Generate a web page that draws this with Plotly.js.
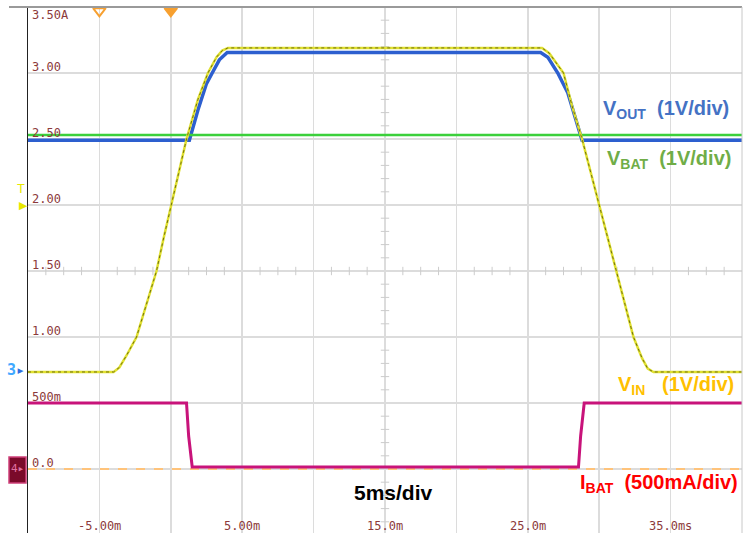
<!DOCTYPE html>
<html>
<head>
<meta charset="utf-8">
<script src="https://cdn.plot.ly/plotly-3.0.1.min.js"></script>
<style>html,body{margin:0;padding:0;background:#fff;}#chart{width:755px;height:533px;}</style>
</head>
<body>
<div id="chart"></div>
<script>
// ---- data (time in ms, level in screen units: 0.5 per division) ----
const vbatT = [-10, 40];
const vbatV = [2.53, 2.53];

const voutT = [-10, 1.3, 1.9, 2.5, 2.9, 3.4, 3.95, 25.9, 26.4, 27.1, 27.8, 28.3, 28.8, 40];
const voutV = [2.49, 2.49, 2.72, 2.92, 3.0, 3.1, 3.155, 3.155, 3.12, 3.0, 2.85, 2.68, 2.49, 2.49];

const vinT = [-10, -4.0, -3.6, -3.1, -2.4, -1.7, -1.0, -0.5, 0.05, 0.6, 1.1, 1.9, 2.6, 3.2, 3.6, 4.0,
              26.0, 26.5, 27.5, 28.1, 28.8, 29.4, 30.0, 30.6, 31.2, 31.8, 32.4, 33.0, 33.4, 33.8, 40];
const vinV = [0.735, 0.735, 0.77, 0.86, 1.0, 1.25, 1.5, 1.75, 2.0, 2.27, 2.5, 2.8, 3.0, 3.12, 3.17, 3.19,
              3.19, 3.15, 3.0, 2.75, 2.5, 2.25, 2.0, 1.75, 1.5, 1.25, 1.0, 0.84, 0.76, 0.735, 0.735];

const ibatT = [-10, 1.1, 1.25, 1.5, 28.55, 28.7, 28.95, 40];
const ibatV = [0.5, 0.5, 0.25, 0.015, 0.015, 0.25, 0.5, 0.5];

const groundT = [-10, 40];
const groundV = [0, 0];

const triggerX = [-5, 0];

const yTickVals = [3.5, 3.0, 2.5, 2.0, 1.5, 1.0, 0.5, 0.0];
const yTickText = ['3.50A', '3.00', '2.50', '2.00', '1.50', '1.00', '500m', '0.0'];
const xTickVals = [-5, 5, 15, 25, 35];
const xTickText = ['-5.00m', '5.00m', '15.0m', '25.0m', '35.0ms'];

// ---- layout helpers ----
const W = 755, H = 533, L = 28, R = 13, T = 7, B = 0;
const PW = W - L - R, PH = H - T - B;
const px = x => (x - L) / PW;
const py = y => 1 - (y - T) / PH;
const yTop = 3.5, yBot = 3.5 - PH / 132;

// minor ticks on center lines
const hTickX = [], hTickY = [];
for (let x = -10; x <= 40.001; x += 1.25) { if (Math.abs((x % 5)) > 0.01) { hTickX.push(x); hTickY.push(1.5); } }
const vTickX = [], vTickY = [];
for (let y = -0.5; y <= 3.5001; y += 0.1) { const r = Math.abs(((y * 10) % 5)); if (r > 0.01 && r < 4.99) { vTickX.push(15); vTickY.push(y); } }

const labelColor = '#8c3a3a';
const mono = 'DejaVu Sans Mono';
const sans = 'Liberation Sans, Arial, sans-serif';

const traces = [
  { x: hTickX, y: hTickY, mode: 'markers', marker: { symbol: 'line-ns', size: 6, line: { width: 1, color: '#cccccc' } }, hoverinfo: 'skip' },
  { x: vTickX, y: vTickY, mode: 'markers', marker: { symbol: 'line-ew', size: 6, line: { width: 1, color: '#cccccc' } }, hoverinfo: 'skip' },
  { x: groundT, y: groundV, mode: 'lines', line: { color: '#ffc37a', width: 2, dash: 'dash' } },
  { x: ibatT, y: ibatV, mode: 'lines', line: { color: '#c8137a', width: 3 } },
  { x: voutT, y: voutV, mode: 'lines', line: { color: '#2d5fcf', width: 3.5 } },
  { x: vbatT, y: vbatV, mode: 'lines', line: { color: '#3bd03b', width: 2.5 } },
  { x: vinT, y: vinV, mode: 'lines', line: { color: '#e0e030', width: 2.5 } },
  { x: vinT, y: vinV, mode: 'lines', line: { color: '#707010', width: 1, dash: 'dot' } },
  { x: triggerX, y: [3.47, 3.47], mode: 'markers', cliponaxis: false,
    marker: { symbol: ['triangle-down-open', 'triangle-down'], size: 11, color: '#f7a030', line: { width: 2, color: '#f7a030' } } }
];

const annotations = [];
yTickVals.forEach((v, i) => annotations.push({
  xref: 'paper', yref: 'y', x: px(30), y: v, xanchor: 'left', yanchor: 'middle',
  yshift: i === 0 ? -8 : 6, showarrow: false, text: yTickText[i],
  font: { family: mono, size: 12, color: labelColor }
}));
xTickVals.forEach((v, i) => annotations.push({
  xref: 'x', yref: 'paper', x: v, y: py(526), xanchor: 'center', yanchor: 'middle',
  showarrow: false, text: xTickText[i], font: { family: mono, size: 12, color: labelColor }
}));

function label(text, x, y, color, size) {
  annotations.push({ xref: 'paper', yref: 'paper', x: px(x), y: py(y), xanchor: 'left', yanchor: 'middle',
    showarrow: false, text: text, font: { family: sans, size: size || 20, color: color } });
}
label('<b>V<sub>OUT</sub>&nbsp;&nbsp;(1V/div)</b>', 601, 109, '#4472c4');
label('<b>V<sub>BAT</sub>&nbsp;&nbsp;(1V/div)</b>', 605, 159, '#70ad47');
label('<b>V<sub>IN</sub>&nbsp;&nbsp;&nbsp;(1V/div)</b>', 616, 385, '#ffc000');
label('<b>I<sub>BAT</sub>&nbsp;&nbsp;(500mA/div)</b>', 578, 483, '#ff0000');
label('<b>5ms/div</b>', 352, 492, '#000000', 21);

// channel markers at left edge
annotations.push({ xref: 'paper', yref: 'paper', x: px(21), y: py(189), xanchor: 'center', yanchor: 'middle', showarrow: false,
  text: 'T', font: { family: mono, size: 13, color: '#e8e800' } });
annotations.push({ xref: 'paper', yref: 'paper', x: px(23), y: py(205), xanchor: 'center', yanchor: 'middle', showarrow: false,
  text: '▶', font: { family: 'DejaVu Sans', size: 11, color: '#e8e800' } });
annotations.push({ xref: 'paper', yref: 'paper', x: px(16), y: py(370), xanchor: 'center', yanchor: 'middle', showarrow: false,
  text: '<b>3</b><span style="color:#2f6fe0">▸</span>', font: { family: mono, size: 15, color: '#40a8ff' } });
annotations.push({ xref: 'paper', yref: 'paper', x: px(17), y: py(468), xanchor: 'center', yanchor: 'middle', showarrow: false,
  text: '4▸', font: { family: mono, size: 11, color: '#e070a0' } });

const shapes = [
  { type: 'rect', xref: 'paper', yref: 'paper', x0: px(9), x1: px(26), y0: py(483), y1: py(457),
    fillcolor: '#7a0a2a', line: { color: '#d0407a', width: 1.5 }, layer: 'below' },
  { type: 'line', xref: 'paper', yref: 'paper', x0: px(9), x1: 1, y0: 1, y1: 1, line: { color: '#9a9a9a', width: 2 } },
  { type: 'line', xref: 'paper', yref: 'paper', x0: 1, x1: 1, y0: 0, y1: 1, line: { color: '#c8c8c8', width: 1 } }
];

const layout = {
  width: W, height: H,
  margin: { l: L, r: R, t: T, b: B, pad: 0 },
  paper_bgcolor: '#ffffff', plot_bgcolor: '#ffffff',
  showlegend: false,
  xaxis: { range: [-10, 40], dtick: 5, tick0: -10, showgrid: true, gridcolor: '#dcdcdc', gridwidth: 1.5,
           zeroline: false, showticklabels: false, ticks: '', showline: false, fixedrange: true },
  yaxis: { range: [yBot, yTop], dtick: 0.5, tick0: 0, showgrid: true, gridcolor: '#dcdcdc', gridwidth: 1.5,
           zeroline: false, showticklabels: false, ticks: '', showline: true, linecolor: '#222222', linewidth: 1.5, fixedrange: true },
  annotations: annotations,
  shapes: shapes
};

Plotly.newPlot('chart', traces, layout, { staticPlot: true, displayModeBar: false });
</script>
</body>
</html>
